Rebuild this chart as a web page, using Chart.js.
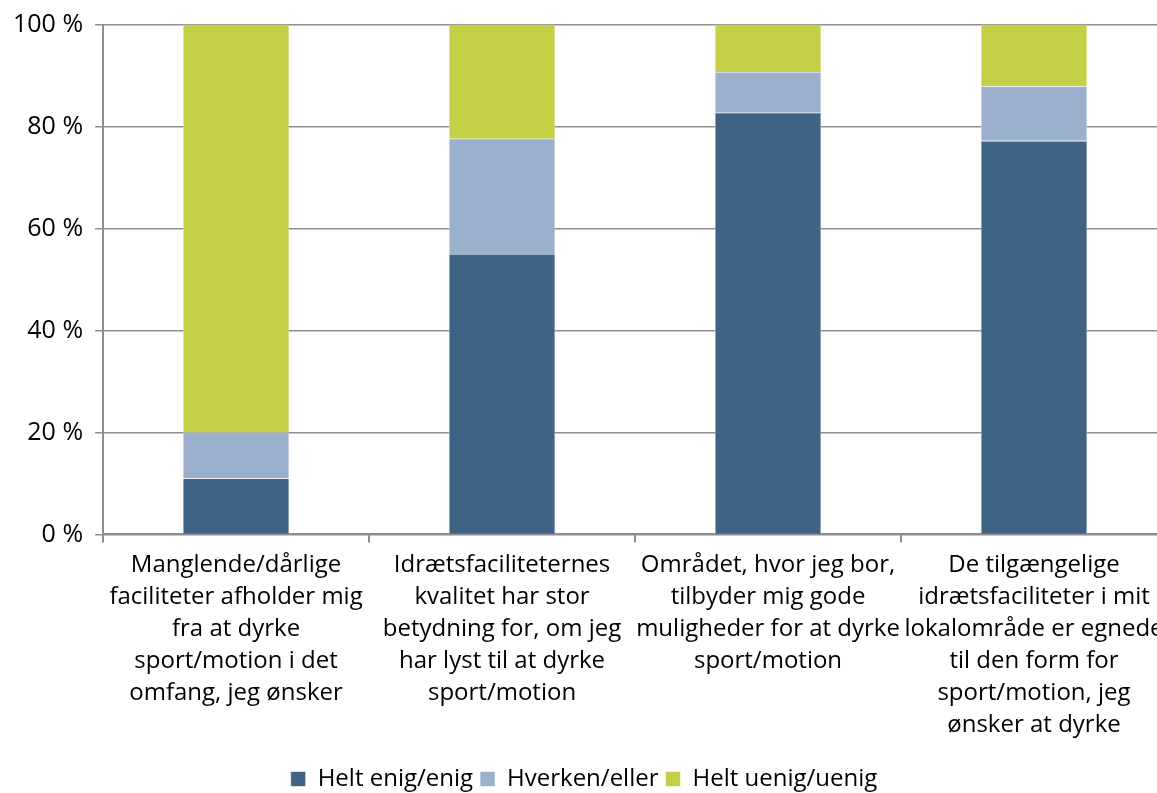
<!DOCTYPE html>
<html>
<head>
<meta charset="utf-8">
<script src="https://cdn.jsdelivr.net/npm/chart.js@4"></script>
<style>
  html, body { margin: 0; padding: 0; background: #fff; overflow: hidden; }
  #wrap { width: 1175px; height: 793px; position: relative; }
</style>
</head>
<body>
<div id="wrap"><canvas id="chart"></canvas></div>
<script>
const categories = [
    ['Manglende/dårlige', 'faciliteter afholder mig', 'fra at dyrke', 'sport/motion i det', 'omfang, jeg ønsker'],
    ['Idrætsfaciliteternes', 'kvalitet har stor', 'betydning for, om jeg', 'har lyst til at dyrke', 'sport/motion'],
    ['Området, hvor jeg bor,', 'tilbyder mig gode', 'muligheder for at dyrke', 'sport/motion'],
    ['De tilgængelige', 'idrætsfaciliteter i mit', 'lokalområde er egnede', 'til den form for', 'sport/motion, jeg', 'ønsker at dyrke']
];
const enig = [11, 55, 82.7, 77.2];
const hverken = [9, 22.6, 8, 10.7];
const uenig = [80, 22.4, 9.3, 12.1];
const yTicks = [0, 20, 40, 60, 80, 100];

const gridColor = '#8e8e92';
const fontFamily = '"Open Sans", Lato, sans-serif';

function makeDataset(label, data, color) {
    return {
        label: label,
        data: data,
        backgroundColor: color,
        borderColor: '#ffffff',
        borderWidth: 0.6,
        categoryPercentage: 0.4,
        barPercentage: 1
    };
}

new Chart(document.getElementById('chart'), {
    type: 'bar',
    data: {
        labels: categories,
        datasets: [
            makeDataset('Helt enig/enig', enig, '#3f6384'),
            makeDataset('Hverken/eller', hverken, '#9ab0cc'),
            makeDataset('Helt uenig/uenig', uenig, '#c4cf46')
        ]
    },
    options: {
        responsive: true,
        maintainAspectRatio: false,
        animation: false,
        layout: { padding: { top: 0, right: 8, left: 1, bottom: -8 } },
        plugins: {
            legend: {
                position: 'bottom',
                labels: {
                    color: '#000',
                    font: { family: fontFamily, size: 24, lineHeight: 1 },
                    boxWidth: 15,
                    boxHeight: 15,
                    padding: 7
                }
            },
            tooltip: { enabled: false }
        },
        scales: {
            x: {
                stacked: true,
                grid: { drawOnChartArea: false, color: gridColor, tickLength: 8, lineWidth: 2 },
                border: { color: gridColor, width: 2 },
                afterFit: (axis) => { axis.height += 12; },
                ticks: {
                    color: '#000',
                    maxRotation: 0,
                    autoSkip: false,
                    padding: 7,
                    font: { family: fontFamily, size: 24, lineHeight: 1.33 }
                }
            },
            y: {
                stacked: true,
                min: 0,
                max: 100,
                afterBuildTicks: (axis) => { axis.ticks = yTicks.map(v => ({ value: v })); },
                grid: { color: gridColor, tickLength: 8, lineWidth: 1.5 },
                border: { color: gridColor, width: 2 },
                ticks: {
                    color: '#000',
                    padding: 12,
                    font: { family: fontFamily, size: 25, lineHeight: 1 },
                    callback: v => v + ' %'
                }
            }
        }
    }
});
</script>
</body>
</html>
